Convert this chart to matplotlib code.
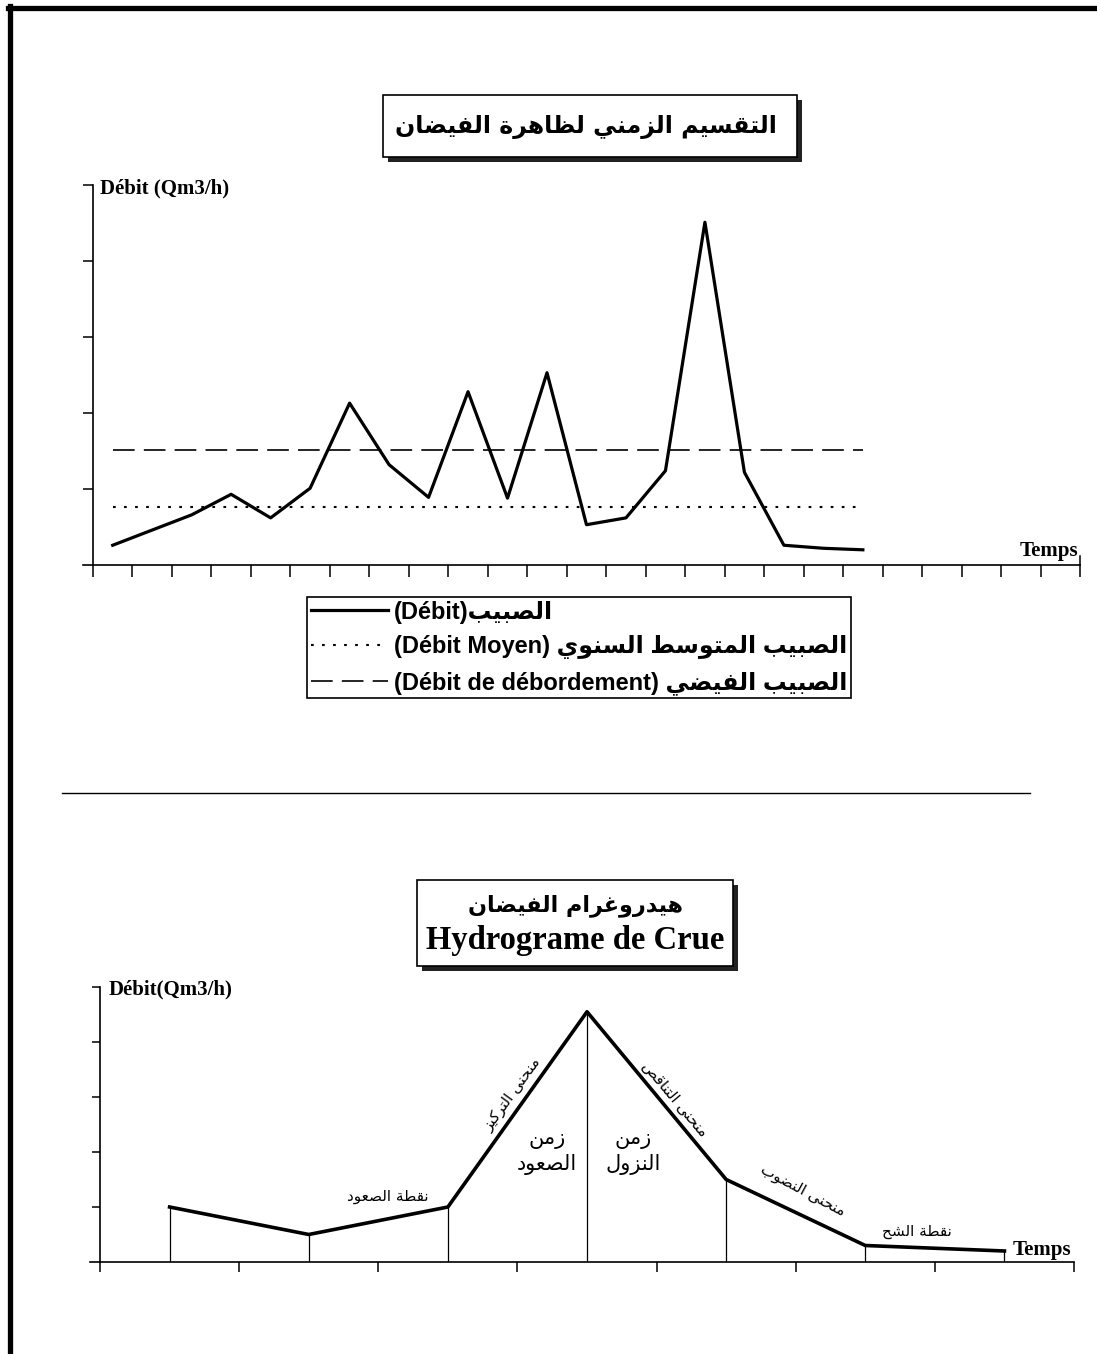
import unicodedata
import matplotlib
matplotlib.use('Agg')
import matplotlib.pyplot as plt
from matplotlib.lines import Line2D
from matplotlib.patches import Rectangle

# ---- data ----
flow_t = [0.5, 1.5, 2.5, 3.5, 4.5, 5.5, 6.5, 7.5, 8.5, 9.5,
          10.5, 11.5, 12.5, 13.5, 14.5, 15.5, 16.5, 17.5, 18.5, 19.5]
flow_q = [0.26, 0.46, 0.66, 0.93, 0.62, 1.01, 2.13, 1.32, 0.89, 2.28,
          0.88, 2.53, 0.53, 0.62, 1.24, 4.51, 1.22, 0.26, 0.22, 0.20]
ref_span = [0.5, 19.5]
mean_q = 0.76
overflow_q = 1.51

hydro_t = [0.5, 1.5, 2.5, 3.5, 4.5, 5.5, 6.5]
hydro_q = [1.0, 0.5, 1.0, 4.55, 1.5, 0.3, 0.2]

title_top = "التقسيم الزمني لظاهرة الفيضان"
title_bot_ar = "هيدروغرام الفيضان"
title_bot_fr = "Hydrograme de Crue"
legend_fr = ["(Débit)", "(Débit Moyen) ", "(Débit de débordement) "]
legend_ar = ["الصبيب", "الصبيب المتوسط السنوي", "الصبيب الفيضي"]
ylabel_top = "Débit (Qm3/h)"
ylabel_bot = "Débit(Qm3/h)"


# simple arabic shaping: presentation forms + visual (reversed) order
FORMS = {}
for cp in range(0xFE70, 0xFEFD):
    d = unicodedata.decomposition(chr(cp)).split()
    if len(d) == 2 and d[0] in ('<isolated>', '<final>', '<initial>', '<medial>'):
        FORMS.setdefault(chr(int(d[1], 16)), {})[d[0][1:-1]] = chr(cp)


def ar(text):
    out = []
    for i, ch in enumerate(text):
        f = FORMS.get(ch)
        if not f:
            out.append(ch)
            continue
        prev = text[i - 1] if i > 0 else ''
        nxt = text[i + 1] if i + 1 < len(text) else ''
        jp = prev in FORMS and 'medial' in FORMS[prev]
        jn = nxt in FORMS and 'medial' in f
        if jp and jn:
            out.append(f['medial'])
        elif jp:
            out.append(f.get('final', f['isolated']))
        elif jn:
            out.append(f['initial'])
        else:
            out.append(f['isolated'])
    return ''.join(out)[::-1]


W, H = 1097, 1354
fig = plt.figure(figsize=(W / 100, H / 100), dpi=100)
AR = ['DejaVu Sans']
SERIF = ['Liberation Serif', 'DejaVu Serif']
SANS = ['Liberation Sans', 'DejaVu Sans']


def px_axes(x0, x1, y_top, y_bot):
    return fig.add_axes([x0 / W, 1 - y_bot / H, (x1 - x0) / W, (y_bot - y_top) / H])


def title_box(x0, x1, y0, y1):
    fig.add_artist(Rectangle((x0 / W + 5 / W, 1 - y1 / H - 5 / H), (x1 - x0) / W, (y1 - y0) / H,
                             transform=fig.transFigure, facecolor='#222222', edgecolor='none'))
    fig.add_artist(Rectangle((x0 / W, 1 - y1 / H), (x1 - x0) / W, (y1 - y0) / H,
                             transform=fig.transFigure, facecolor='white', edgecolor='black', lw=1.2))


def style_axes(ax, xmax, xlen, ylen):
    for s in ['top', 'right']:
        ax.spines[s].set_visible(False)
    ax.spines['left'].set_position(('data', 0))
    for s in ['left', 'bottom']:
        ax.spines[s].set_linewidth(1.2)
    ax.set_xticks(range(0, xmax + 1))
    ax.set_yticks([1, 2, 3, 4, 5])
    ax.set_xticklabels([])
    ax.set_yticklabels([])
    ax.tick_params(axis='x', direction='out', length=xlen, width=1.1)
    ax.tick_params(axis='y', direction='out', length=ylen, width=1.1)
    ax.set_facecolor('none')


# page frame
fig.add_artist(Line2D([8 / W, 1], [1 - 8 / H, 1 - 8 / H], transform=fig.transFigure, color='black', lw=3.8))
fig.add_artist(Line2D([10 / W, 10 / W], [1 - 6 / H, 0], transform=fig.transFigure, color='black', lw=3.8))
# separator
fig.add_artist(Line2D([62 / W, 1030 / W], [1 - 793 / H, 1 - 793 / H], transform=fig.transFigure, color='black', lw=1.0))

# ---- top chart ----
title_box(383, 797, 95, 157)
fig.text(586 / W, 1 - 127 / H, ar(title_top), family=AR, weight='bold', fontsize=17, ha='center', va='center')

ax1 = px_axes(83.1, 1080, 185, 565)
ax1.set_xlim(-0.25, 25)
ax1.set_ylim(0, 5)
style_axes(ax1, 25, 8.6, 7)
l1, = ax1.plot(flow_t, flow_q, color='black', lw=2.3)
l2, = ax1.plot(ref_span, [mean_q, mean_q], color='black', lw=1.5)
l2.set_dashes([1.3, 4.0])
l3, = ax1.plot(ref_span, [overflow_q, overflow_q], color='black', lw=1.2)
l3.set_dashes([13, 5.5])
ax1.plot([25, 25], [0, 0.12], color='black', lw=1.1, clip_on=False)
ax1.text(0.18, 4.96, ylabel_top, family=SERIF, weight='bold', fontsize=15, ha='left', va='center')
ax1.text(24.95, 0.18, 'Temps', family=SERIF, weight='bold', fontsize=15, ha='right', va='center')

fig.legend([l1, l2, l3], [fr + ar(a) for fr, a in zip(legend_fr, legend_ar)],
           loc='upper left', bbox_to_anchor=(307 / W, 1 - 597 / H),
           prop={'family': SANS, 'weight': 'bold', 'size': 17},
           frameon=True, fancybox=False, edgecolor='black', framealpha=1,
           handlelength=3.3, handletextpad=0.25, labelspacing=0.5, borderpad=0.15,
           borderaxespad=0).get_frame().set_linewidth(1.2)

# ---- bottom chart ----
title_box(417, 733, 880, 966)
fig.text(575 / W, 1 - 906 / H, ar(title_bot_ar), family=AR, weight='bold', fontsize=16, ha='center', va='center')
fig.text(575 / W, 1 - 941 / H, title_bot_fr, family=SERIF, weight='bold', fontsize=23.5, ha='center', va='center')

ax2 = px_axes(90.3, 1074, 987, 1262)
ax2.set_xlim(-0.07, 7)
ax2.set_ylim(0, 5)
style_axes(ax2, 7, 7, 6)
ax2.vlines(hydro_t, 0, hydro_q, color='black', lw=0.9)
ax2.plot(hydro_t, hydro_q, color='black', lw=2.6)
ax2.text(0.06, 4.95, ylabel_bot, family=SERIF, weight='bold', fontsize=15, ha='left', va='center')
ax2.text(6.98, 0.22, 'Temps', family=SERIF, weight='bold', fontsize=15, ha='right', va='center')

ax2.text(2.96, 3.04, ar("منحنى التركيز"), family=AR, fontsize=11, rotation=54, ha='center', va='center')
ax2.text(4.13, 2.96, ar("منحنى التناقص"), family=AR, fontsize=11, rotation=-50, ha='center', va='center')
ax2.text(5.05, 1.31, ar("منحنى النضوب"), family=AR, fontsize=11, rotation=-28, ha='center', va='center')
ax2.text(2.07, 1.2, ar("نقطة الصعود"), family=AR, fontsize=11, ha='center', va='center')
ax2.text(5.87, 0.55, ar("نقطة الشح"), family=AR, fontsize=11, ha='center', va='center')
ax2.text(3.21, 2.0, ar("زمن") + "\n" + ar("الصعود"), family=AR, fontsize=15, ha='center', va='center', linespacing=1.35)
ax2.text(3.83, 2.0, ar("زمن") + "\n" + ar("النزول"), family=AR, fontsize=15, ha='center', va='center', linespacing=1.35)

fig.savefig('out.png', dpi=100)
